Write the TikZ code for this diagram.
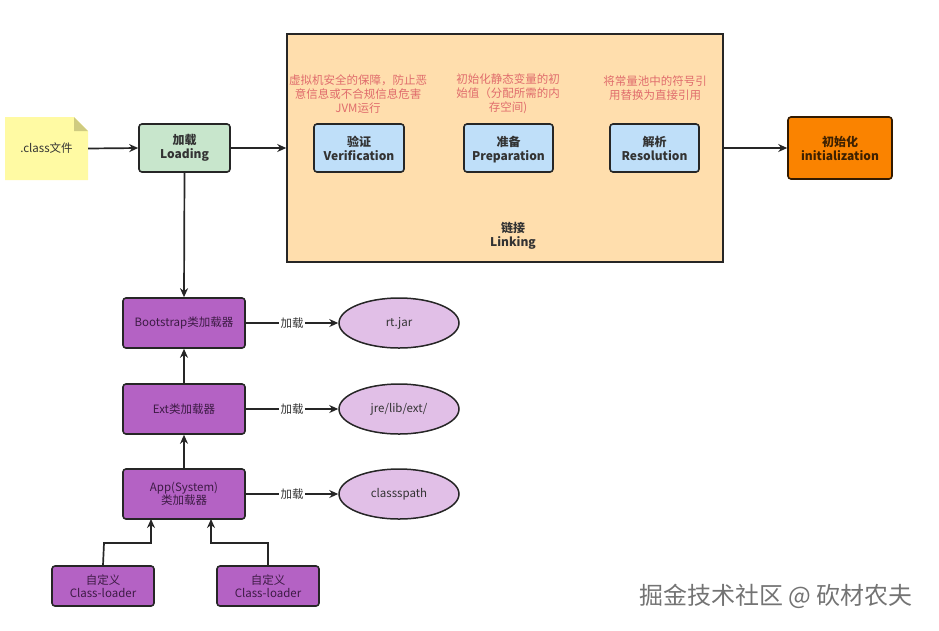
\documentclass[tikz,border=0pt]{standalone}
\usepackage{fontspec}
\setmainfont{Noto Sans CJK SC}
\usetikzlibrary{arrows.meta,shapes.geometric}
\definecolor{notefill}{HTML}{FFFAA3}
\definecolor{notefold}{HTML}{CFCB80}
\definecolor{greenfill}{HTML}{C8E6CC}
\definecolor{linkfill}{HTML}{FFDEAD}
\definecolor{bluefill}{HTML}{BFDFF9}
\definecolor{orangefill}{HTML}{FA8300}
\definecolor{purplefill}{HTML}{B462C4}
\definecolor{ellfill}{HTML}{E1BFE7}
\definecolor{redtext}{HTML}{E06C6C}
\definecolor{edge}{HTML}{262626}
\definecolor{ptext}{HTML}{3D1B45}
\tikzset{
  box/.style={draw=edge, line width=1.6pt, rounded corners=3pt, align=center, text=black!80, font=\fontsize{12}{14}\selectfont\bfseries, inner sep=0pt},
  pbox/.style={draw=edge, line width=1.6pt, rounded corners=3pt, align=center, fill=purplefill, text=ptext, font=\fontsize{11.5}{13}\selectfont, minimum width=122pt, minimum height=50pt, inner sep=0pt},
  cbox/.style={pbox, minimum width=102pt, minimum height=40pt},
  ell/.style={ellipse, draw=edge, line width=1.5pt, fill=ellfill, text=black!80, font=\fontsize{11.5}{13}\selectfont, minimum width=120pt, minimum height=50pt, inner sep=0pt},
  arr/.style={draw=edge, line width=1.7pt, -{Stealth[length=9pt,width=8pt]}},
  redlbl/.style={text=redtext, align=center, font=\fontsize{11.5}{14}\selectfont},
  elbl/.style={fill=white, inner sep=1.5pt, text=black!80, font=\fontsize{11.5}{13}\selectfont},
}
\begin{document}
\begin{tikzpicture}[x=1pt,y=-1pt]
\useasboundingbox (0,0) rectangle (939,630);
% note
\fill[notefill] (5,117) -- (74,117) -- (88,131) -- (88,180) -- (5,180) -- cycle;
\fill[notefold] (74,117) -- (88,131) -- (74,131) -- cycle;
\node[inner sep=0pt, minimum width=83pt, minimum height=63pt, font=\fontsize{11.5}{13}\selectfont, text=black!80] (cls) at (46.5,148.5) {.class文件};
% loading
\node[box, fill=greenfill, minimum width=91pt, minimum height=48pt] (load) at (184.5,148) {加载\\Loading};
% linking
\node[draw=edge, line width=1.6pt, fill=linkfill, minimum width=436pt, minimum height=228pt, inner sep=0pt] (link) at (505,148) {};
\node[align=center, font=\fontsize{12}{14}\selectfont\bfseries, text=black!80] (linklbl) at (513,236) {链接\\Linking};
\node[box, fill=bluefill, minimum width=90pt, minimum height=48pt] (ver) at (359,148) {验证\\Verification};
\node[box, fill=bluefill, minimum width=89pt, minimum height=48pt] (prep) at (508.5,148) {准备\\\smash{Preparation}};
\node[box, fill=bluefill, minimum width=89pt, minimum height=48pt] (res) at (654.5,148) {解析\\Resolution};
\node[redlbl] (vert) at (358,94) {虚拟机安全的保障，防止恶\\意信息或不合规信息危害\\JVM运行};
\node[redlbl] (prept) at (508,94) {初始化静态变量的初\\始值（分配所需的内\\存空间)};
\node[redlbl] (rest) at (655,88) {将常量池中的符号引\\用替换为直接引用};
% init
\node[box, draw=black!80!orangefill, fill=orangefill, text=black!75!orangefill, minimum width=104pt, minimum height=62pt] (init) at (840,148) {初始化\\initialization};
% loaders
\node[pbox] (boot) at (184,323) {Bootstrap类加载器};
\node[pbox] (ext) at (184,409) {Ext类加载器};
\node[pbox] (app) at (184,494) {App(System)\\类加载器};
\node[cbox] (c1) at (103,586) {自定义\\Class-loader};
\node[cbox] (c2) at (268,586) {自定义\\Class-loader};
\node[ell] (rt) at (399,323) {rt.jar};
\node[ell] (jre) at (399,409) {jre/lib/ext/};
\node[ell] (cp) at (399,494) {classspath};
% arrows
\draw[arr] (cls.east) -- (load.west);
\draw[arr] (load.east) -- (link.west);
\draw[arr] (link.east) -- (init.west);
\draw[arr] (load.south) -- (boot.north);
\draw[arr] (ext.north) -- (boot.south);
\draw[arr] (app.north) -- (ext.south);
\draw[arr] (boot.east) -- node[elbl, pos=0.5] {加载} (rt.west);
\draw[arr] (ext.east) -- node[elbl, pos=0.5] {加载} (jre.west);
\draw[arr] (app.east) -- node[elbl, pos=0.5] {加载} (cp.west);
\coordinate (a1) at (151,519);
\coordinate (a2) at (211,519);
\draw[arr] (c1.north) -- (104,543) -- (151,543) -- (a1);
\draw[arr] (c2.north) -- (268,543) -- (211,543) -- (a2);
% watermark
\node[text=black!55, font=\fontsize{24}{28}\selectfont] (wm) at (776,596) {掘金技术社区 @ 砍材农夫};
\end{tikzpicture}
\end{document}
